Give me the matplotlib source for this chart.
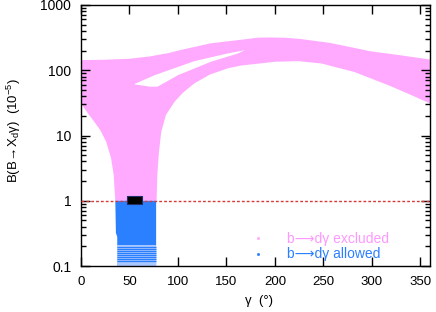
import numpy as np
import matplotlib
matplotlib.use("Agg")
import matplotlib.pyplot as plt
from matplotlib.lines import Line2D
from matplotlib.ticker import FixedLocator, FuncFormatter, LogLocator, NullFormatter

plt.rcParams['font.family'] = ['Liberation Sans', 'DejaVu Sans']
plt.rcParams['mathtext.fontset'] = 'custom'
plt.rcParams['mathtext.rm'] = 'Liberation Sans'
plt.rcParams['mathtext.default'] = 'regular'

# excluded region (pink), outline
up_gamma = [0, 25, 50, 71, 90, 102, 134, 164, 182, 195, 210, 226, 241, 257, 277, 298, 329, 360]
up_B = [143, 145, 150, 163, 183, 203, 259, 292, 315, 318, 315, 302, 282, 262, 228, 196, 170, 146]
low_gamma = [0, 7, 14, 20, 26, 31, 33.7, 35.4, 78, 78.7, 80.4, 82.8, 87.6, 96.6, 105, 117,
             133, 151.5, 165, 180, 200, 224, 248, 282, 317, 337, 360]
low_B = [31, 22, 16, 12, 8, 4.5, 2.5, 1, 1, 2.5, 5.6, 11.4, 20.6, 33, 45, 63,
         86, 107, 118, 125, 135, 138, 127, 94, 59, 44, 31]

# white gap inside the band
hole_up_gamma = [54.6, 76, 117, 151.5, 169]
hole_up_B = [61, 84, 138, 181, 203]
hole_low_gamma = [54.6, 71, 79, 100, 134, 162, 169]
hole_low_B = [61, 56, 56, 84, 135, 181, 203]

# allowed region (blue)
blue_gamma = [35.4, 36, 37.4, 37.4, 77.5, 77.5]
blue_B = [1, 0.32, 0.28, 0.1, 0.1, 1]
stripe_B = [0.198, 0.182, 0.170, 0.158, 0.146, 0.136, 0.127, 0.118]
stripe_edge = 0.21

# measurement box
meas_gamma = [47.4, 62.9]
meas_lo = [0.89, 0.89]
meas_hi = [1.18, 1.18]

limit = 1.0

pink = '#ffaaff'
blue = '#2b80ff'

fig = plt.figure(figsize=(4.36, 3.12), dpi=100)
ax = fig.add_axes([81/436, 46/312, 349/436, 261/312])

ax.fill(np.r_[up_gamma, low_gamma[::-1]], np.r_[up_B, low_B[::-1]],
        color=pink, lw=0, zorder=1)
ax.fill(np.r_[hole_up_gamma, hole_low_gamma[::-1]], np.r_[hole_up_B, hole_low_B[::-1]],
        color='white', lw=0, zorder=2)
ax.fill(blue_gamma, blue_B, color=blue, lw=0, zorder=1)
ax.fill_between([37.4, 77.5], [0.1, 0.1], [stripe_edge, stripe_edge], color='#a9c8ff', lw=0, zorder=2)
ax.hlines(stripe_B, 37.4, 77.5, color=blue, lw=0.9, zorder=3)

ax.axhline(limit, color='#d83838', lw=1, dashes=(2, 1.5), zorder=4)
ax.fill_between(meas_gamma, meas_lo, meas_hi, facecolor='black', edgecolor='#22306a',
                lw=0.8, zorder=5)

ax.set_yscale('log')
ax.set_xlim(0, 360)
ax.set_ylim(0.1, 1000)
ax.xaxis.set_major_locator(FixedLocator(np.arange(0, 351, 50)))
ax.yaxis.set_major_locator(FixedLocator([0.1, 1, 10, 100, 1000]))
ax.yaxis.set_major_formatter(FuncFormatter(lambda v, p: '%g' % v))
ax.yaxis.set_minor_locator(LogLocator(base=10, subs=np.arange(2, 10)))
ax.yaxis.set_minor_formatter(NullFormatter())
ax.tick_params(which='both', direction='in', top=True, right=True, width=1)
ax.tick_params(which='major', length=6.5, pad=7)
ax.tick_params(which='minor', length=3.5)
ax.tick_params(axis='x', labelsize=9.5)
ax.tick_params(axis='y', labelsize=10)
for s in ax.spines.values():
    s.set_linewidth(1)

ax.set_ylabel(r'B(B$\!\rightarrow\!$X$_{d}\gamma$)  (10$^{-5}$)', fontsize=9.5)
ax.yaxis.set_label_coords(-0.165, 0.52)
ax.set_xlabel('γ  (°)', fontsize=9.5)
ax.xaxis.set_label_coords(0.51, -0.11)

handles = [Line2D([], [], ls='none', marker='s', ms=1, color=pink),
           Line2D([], [], ls='none', marker='s', ms=1, color=blue)]
leg = ax.legend(handles, ['b⟶dγ excluded', 'b⟶dγ allowed'], loc='upper left',
                bbox_to_anchor=(0.47, 0.13), frameon=False, fontsize=10,
                borderpad=0, borderaxespad=0, handlelength=1.8, handletextpad=1.2,
                labelspacing=0.1)
for t, c in zip(leg.get_texts(), ['#ff99ff', blue]):
    t.set_color(c)

fig.savefig('out.png', dpi=100)
